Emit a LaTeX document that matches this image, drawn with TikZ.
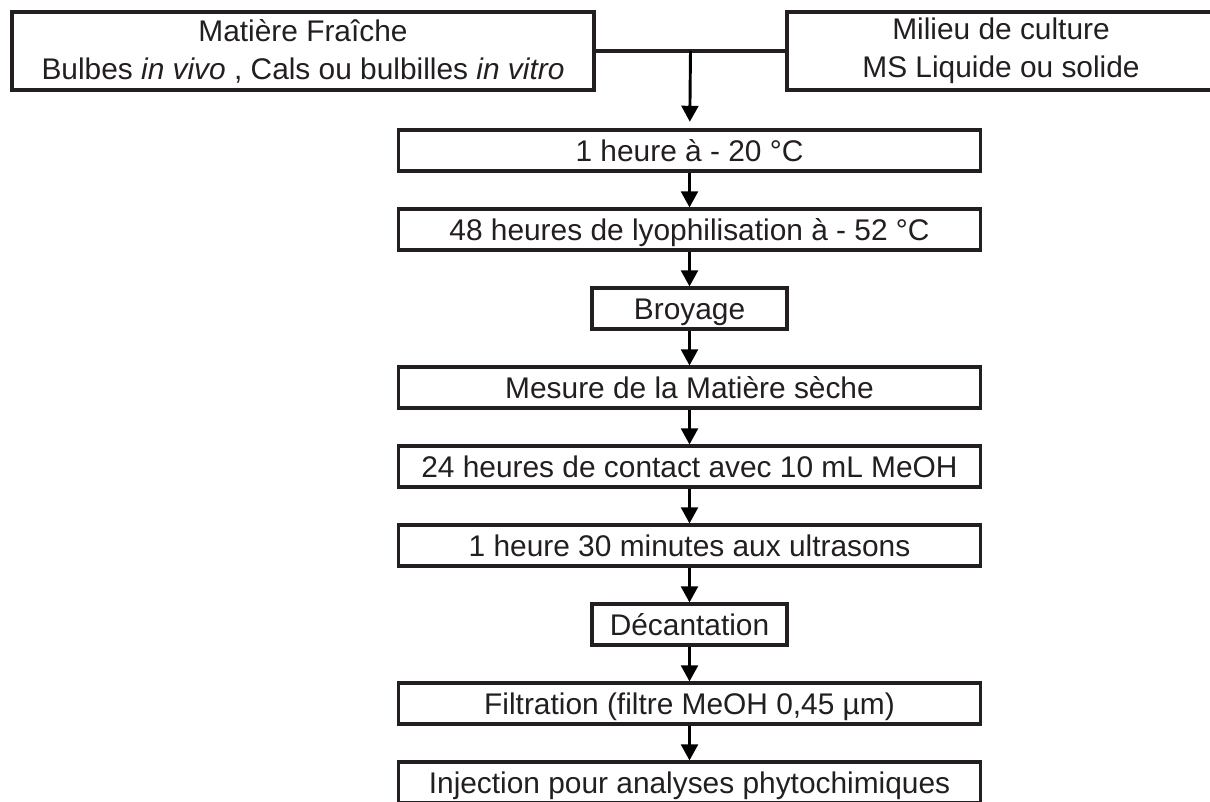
\documentclass[tikz,border=0pt]{standalone}
\usepackage{fontspec}
\setmainfont{Liberation Sans}
\usetikzlibrary{arrows.meta,calc}
\definecolor{ink}{HTML}{231F20}
\tikzset{
    % Boxes
    box line/.style={draw=ink,line width=2.3pt},
    stepbox/.style={box line,fill=white,inner sep=0pt,minimum height=30.75pt,text height=16pt,text depth=0pt,text=ink},
    wide/.style={stepbox,minimum width=436.5pt},
    narrow/.style={stepbox,minimum width=146.25pt},
    sourcebox/.style={box line,inner sep=0pt,minimum width=436.5pt,minimum height=58.5pt},
    sourcetext/.style={align=center,text=ink},
    %
    % Arrows
    arrow tip/.tip={Triangle[length=12pt 0,width=12.5pt 0]},
    arr/.style={-{arrow tip},draw=black,line width=2.2pt}
}
\tikzstyle{every node}=[font=\fontsize{22.4}{28.5}\selectfont]

\begin{document}
\begin{tikzpicture}[x=0.75pt,y=-0.75pt]
        \useasboundingbox (0,0) rectangle (1210,802);
        \clip (0,0) rectangle (1210,802);
        \node[sourcebox,sourcetext] (fresh) at (303,51) {Matière Fraîche\\Bulbes \textit{in vivo} , Cals ou bulbilles \textit{in vitro}};
        \node[sourcebox] (culture) at (1078,51) {};
        \node[sourcetext] (culturetext) at (1001,51) {Milieu de culture\\MS Liquide ou solide};
        \node[wide] (cold) at (689.5,150.5) {1 heure à - 20 °C};
        \node[wide] (lyo) at (689.5,229.5) {48 heures de lyophilisation à - 52 °C};
        \node[narrow] (grind) at (689.5,308.5) {Broyage};
        \node[wide] (dry) at (689.5,387.5) {Mesure de la Matière sèche};
        \node[wide] (meoh) at (689.5,466.5) {24 heures de contact avec 10 mL MeOH};
        \node[wide] (sonic) at (689.5,545.5) {1 heure 30 minutes aux ultrasons};
        \node[narrow] (settle) at (689.5,624.5) {Décantation};
        \node[wide] (filter) at (689.5,703.5) {Filtration (filtre MeOH 0,45 µm)};
        \node[wide] (inject) at (689.5,782.5) {Injection pour analyses phytochimiques};
        \coordinate (join) at ($(fresh.east)!.5!(culture.west)$);
        \draw[box line] (fresh) -- (culture);
        \draw[arr,shorten >=5pt] (join) -- (cold);
        \foreach \a/\b in {cold/lyo,lyo/grind,grind/dry,dry/meoh,meoh/sonic,sonic/settle,settle/filter,filter/inject}
            \draw[arr] (\a) -- (\b);
    \end{tikzpicture}
\end{document}
